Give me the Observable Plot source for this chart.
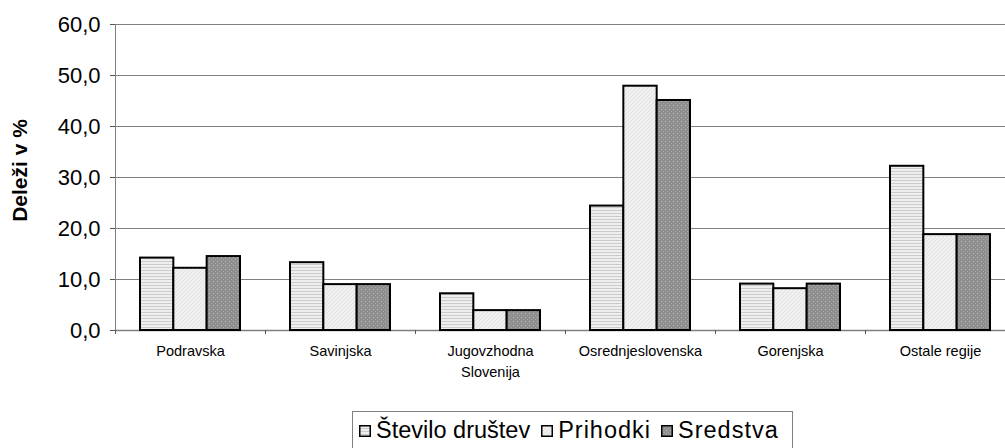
<!DOCTYPE html>
<html>
<head>
<meta charset="utf-8">
<script src="https://cdn.jsdelivr.net/npm/d3@7"></script>
<script src="https://cdn.jsdelivr.net/npm/@observablehq/plot@0.6"></script>
<style>
  html, body { margin: 0; padding: 0; background: #fff; overflow: hidden; }
  #wrap { position: relative; width: 1005px; height: 448px; font-family: "Liberation Sans", Arial, sans-serif; }
  #legend { position: absolute; left: 352px; top: 411px; width: 441px; height: 42px; border: 1px solid #808080; box-sizing: border-box;
            display: flex; align-items: center; justify-content: flex-start; font-size: 23.5px; color: #000; padding: 0 0 3px 6px; }
  #legend .item { display: flex; align-items: center; }
  #legend svg { margin-right: 5px; }
</style>
</head>
<body>
<div id="wrap"><div id="chart"></div><div id="legend"></div></div>
<script>
const regions = ["Podravska", "Savinjska", "Jugovzhodna Slovenija", "Osrednjeslovenska", "Gorenjska", "Ostale regije"];
const regionLabels = ["Podravska", "Savinjska", "Jugovzhodna\nSlovenija", "Osrednjeslovenska", "Gorenjska", "Ostale regije"];
const seriesNames = ["Število društev", "Prihodki", "Sredstva"];
const stevilo = [14.2, 13.3, 7.2, 24.4, 9.1, 32.2];
const prihodki = [12.2, 9.0, 3.9, 47.9, 8.2, 18.8];
const sredstva = [14.5, 9.0, 3.9, 45.1, 9.1, 18.8];
const yTicks = [0, 10, 20, 30, 40, 50, 60];
const gridTicks = [10, 20, 30, 40, 50, 60];

const seriesValues = [stevilo, prihodki, sredstva];
const patternIds = ["patStevilo", "patPrihodki", "patSredstva"];
const rows = seriesValues.map(vals => regions.map((r, i) => ({region: r, value: vals[i]})));
const labelOf = Object.fromEntries(regions.map((r, i) => [r, regionLabels[i]]));

const bw = 150, pad = 25, bar = (bw - 2 * pad) / 3;
const fmt = d => d.toFixed(1).replace(".", ",");

const chart = Plot.plot({
  width: 1005,
  height: 400,
  marginTop: 24,
  marginBottom: 70,
  marginLeft: 115,
  marginRight: 0,
  style: {fontFamily: "Liberation Sans, Arial, sans-serif", background: "#fff", color: "#000"},
  x: {domain: regions, range: [115, 1015], padding: 0, axis: null},
  y: {domain: [0, 60], axis: null},
  marks: [
    Plot.ruleY(gridTicks, {stroke: "#808080", strokeWidth: 1}),
    Plot.ruleY([0], {stroke: "#808080", strokeWidth: 1.5}),
    Plot.ruleX([regions[0]], {x: d => d, dx: -bw / 2, y1: 0, y2: 60, stroke: "#808080", strokeWidth: 1}),
    Plot.ruleX(regions, {x: d => d, dx: -bw / 2, y1: 0, y2: 0, insetBottom: -4, stroke: "#555", strokeWidth: 1}),
    ...rows.map((data, k) => Plot.barY(data, {
      x: "region", y: "value",
      fill: `url(#${patternIds[k]})`,
      stroke: "#000", strokeWidth: 2,
      insetLeft: pad + bar * k, insetRight: bw - pad - bar * (k + 1)
    })),
    Plot.axisY({ticks: yTicks, tickFormat: fmt, tickSize: 5, tickPadding: 10, fontSize: 22, stroke: "#555", label: null}),
    Plot.text(regions, {x: d => d, text: d => labelOf[d], frameAnchor: "bottom", dy: 11, lineAnchor: "top", lineHeight: 1.45, fontSize: 14.5, fill: "#000"}),
    Plot.text(["Deleži v %"], {frameAnchor: "left", textAnchor: "middle", dx: -95, dy: -7, rotate: -90, fontSize: 21, fontWeight: "bold", fill: "#000"})
  ]
});

const defs = `
<defs>
  <pattern id="patStevilo" width="4" height="3" patternUnits="userSpaceOnUse">
    <rect width="4" height="3" fill="#eeeeee"/>
    <rect y="0" width="4" height="1" fill="#cccccc"/>
  </pattern>
  <pattern id="patPrihodki" width="4" height="4" patternUnits="userSpaceOnUse">
    <rect width="4" height="4" fill="#f0f0f0"/>
    <path d="M0,4 L4,0" stroke="#dddddd" stroke-width="0.8"/>
  </pattern>
  <pattern id="patSredstva" width="4" height="4" patternUnits="userSpaceOnUse">
    <rect width="4" height="4" fill="#8f8f8f"/>
    <rect x="1" y="1" width="1" height="1" fill="#b8b8b8"/>
    <rect x="3" y="3" width="1" height="1" fill="#a8a8a8"/>
  </pattern>
</defs>`;
chart.insertAdjacentHTML("afterbegin", defs);
document.getElementById("chart").appendChild(chart);

const legendGaps = [11, 10, 0];
const legendSpacing = [0, 1, 1];
const legend = document.getElementById("legend");
seriesNames.forEach((name, k) => {
  const item = document.createElement("div");
  item.className = "item";
  item.style.marginRight = legendGaps[k] + "px";
  item.innerHTML = `<svg width="12" height="12"><rect x="0.75" y="0.75" width="10.5" height="10.5" fill="url(#${patternIds[k]})" stroke="#000" stroke-width="1.5"/></svg><span style="letter-spacing:${legendSpacing[k]}px">${name}</span>`;
  legend.appendChild(item);
});
</script>
</body>
</html>
